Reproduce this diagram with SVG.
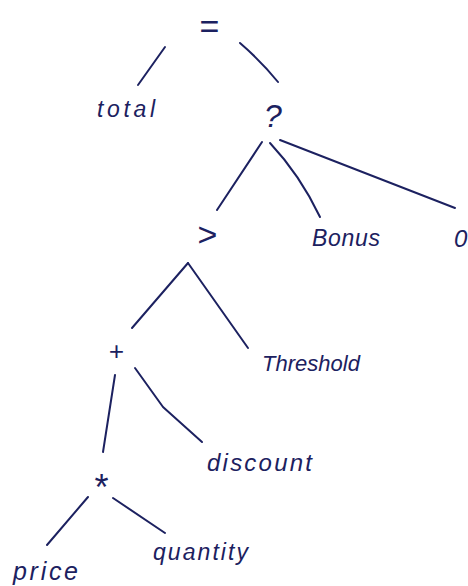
<svg xmlns="http://www.w3.org/2000/svg" width="468" height="586" viewBox="0 0 468 586">
<style>
.e{fill:none;stroke:#1c2160;stroke-width:2;stroke-linecap:round;stroke-linejoin:round}
.t{fill:#1c2160;font-family:"Liberation Sans",Arial,sans-serif;font-style:italic}
</style>
<rect width="468" height="586" fill="#ffffff"/>
<g id="connectors">
<path class="e" d="M165,47 L138,85"/>
<path class="e" d="M240,43 Q262,62 278,82"/>
<path class="e" d="M262,142 L217,210"/>
<path class="e" d="M270,143 Q300,175 320,217"/>
<path class="e" d="M280,140 L455,208"/>
<path class="e" d="M188,263 L132,328"/>
<path class="e" d="M188,263 L248,348"/>
<path class="e" d="M115,375 L103,452"/>
<path class="e" d="M135,368 L163,407 L202,442"/>
<path class="e" d="M88,497 L47,545"/>
<path class="e" d="M113,498 L165,533"/>
</g>
<g id="n-assign"><text class="t" x="209" y="38" font-size="34" text-anchor="middle">=</text></g>
<g id="n-total"><text class="t" x="97" y="117" font-size="23" textLength="58">total</text></g>
<g id="n-cond"><text class="t" x="273" y="127" font-size="32" text-anchor="middle">?</text></g>
<g id="n-gt"><text class="t" x="207" y="246" font-size="34" text-anchor="middle">&gt;</text></g>
<g id="n-bonus"><text class="t" x="312" y="246" font-size="23" textLength="68">Bonus</text></g>
<g id="n-zero"><text class="t" x="454" y="247" font-size="24">0</text></g>
<g id="n-plus"><text class="t" x="116" y="360" font-size="26" text-anchor="middle">+</text></g>
<g id="n-threshold"><text class="t" x="262" y="371" font-size="22" textLength="98">Threshold</text></g>
<g id="n-mul"><text class="t" x="100" y="500" font-size="36" text-anchor="middle">*</text></g>
<g id="n-discount"><text class="t" x="207" y="471" font-size="24" textLength="105">discount</text></g>
<g id="n-price"><text class="t" x="13" y="580" font-size="25" textLength="65">price</text></g>
<g id="n-quantity"><text class="t" x="153" y="560" font-size="23" textLength="95">quantity</text></g>
</svg>
